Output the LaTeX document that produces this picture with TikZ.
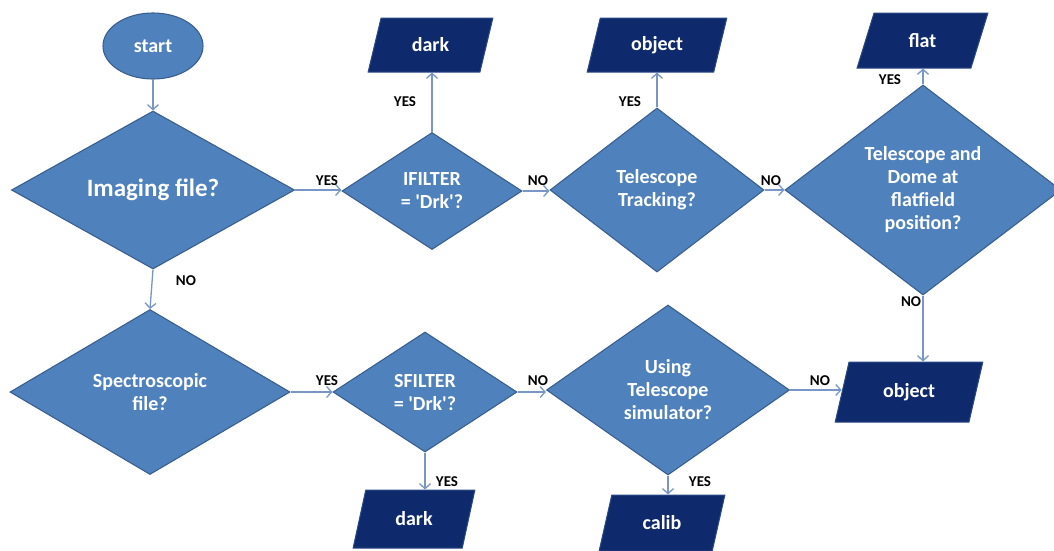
\documentclass[tikz,border=0pt]{standalone}
\usepackage{fontspec}
\setmainfont{Carlito}[Ligatures=TeXOff]
\usetikzlibrary{shapes.geometric,arrows.meta}
\definecolor{dfill}{HTML}{4F81BD}
\definecolor{dline}{HTML}{3A5F8F}
\definecolor{pfill}{HTML}{0F2A6C}
\definecolor{pline}{HTML}{2C4A86}
\definecolor{aline}{HTML}{7896C6}
\tikzset{
  x=1pt, y=-1pt,
  dec/.style={diamond, draw=dline, line width=1.1pt, fill=dfill, text=white, inner sep=0pt,
    font=\bfseries\fontsize{20}{23}\selectfont, align=center},
  para/.style={trapezium, trapezium left angle=71, trapezium right angle=109,
    trapezium stretches=true, draw=pline, line width=1pt, fill=pfill, text=white,
    font=\bfseries\fontsize{20}{23}\selectfont, inner sep=0pt},
  term/.style={ellipse, draw=dline, line width=1.1pt, fill=dfill, text=white,
    font=\bfseries\fontsize{20}{23}\selectfont, minimum width=100pt, minimum height=66pt},
  arr/.style={draw=aline, line width=1.3pt, -{Straight Barb[length=5pt,width=11pt]}},
  lbl/.style={font=\bfseries\fontsize{15}{17}\selectfont, text=black, inner sep=0pt}
}
\begin{document}
\begin{tikzpicture}
\useasboundingbox (0,0) rectangle (1054,550);
\fill[white] (0,0) rectangle (1054,550);
% terminal
\node[term] (st) at (153,46) {start};
% decisions
\node[dec, minimum width=283pt, minimum height=158pt, font=\bfseries\fontsize{25}{28}\selectfont] (img) at (153,190) {Imaging file?};
\node[dec, minimum width=180pt, minimum height=117pt] (ifl) at (432,191) {IFILTER\\= 'Drk'?};
\node[dec, minimum width=214pt, minimum height=164pt] (trk) at (657,190) {Telescope\\Tracking?};
\node[dec, minimum width=276pt, minimum height=210pt] (flt) at (923,190) {Telescope and\\Dome at\\flatfield\\position?};
\node[dec, minimum width=280pt, minimum height=165pt] (spc) at (150,392) {Spectroscopic\\file?};
\node[dec, minimum width=184pt, minimum height=120pt] (sfl) at (425,392) {SFILTER\\= 'Drk'?};
\node[dec, minimum width=243pt, minimum height=170pt] (sim) at (668,390) {Using\\Telescope\\simulator?};
% outputs
\node[para, minimum width=125pt, minimum height=54pt] (dk1) at (430.5,45) {dark};
\node[para, minimum width=140pt, minimum height=54pt] (ob1) at (657,45) {object};
\node[para, minimum width=131pt, minimum height=55pt] (fl) at (922.5,40.5) {flat};
\node[para, minimum width=148pt, minimum height=60pt] (ob2) at (909,392) {object};
\node[para, minimum width=122pt, minimum height=58pt] (dk2) at (414,519) {dark};
\node[para, minimum width=126pt, minimum height=56pt] (cal) at (662,523) {calib};
% connectors
\draw[arr] (st) -- (img);
\draw[arr] (img.east) -- (img.east -| ifl.west);
\draw[arr] (ifl.east) -- (ifl.east -| trk.west);
\draw[arr] (trk.east) -- (trk.east -| flt.west);
\draw[arr] (ifl.north) -- (ifl.north |- dk1.south);
\draw[arr] (trk.north) -- (trk.north |- ob1.south);
\draw[arr] (flt.north) -- (flt.north |- fl.south);
\draw[arr] (flt.south) -- (flt.south |- ob2.north);
\draw[arr] (img.south) -- (spc.north);
\draw[arr] (spc.east) -- (spc.east -| sfl.west);
\draw[arr] (sfl.east) -- (sfl.east -| sim.west);
\draw[arr] (sim.east) -- (sim.east -| ob2.west);
\draw[arr] (sfl.south) -- (sfl.south |- dk2.north);
\draw[arr] (sim.south) -- (sim.south |- cal.north);
% labels
\node[lbl] (l1) at (327,181) {YES};
\node[lbl] (l2) at (538,181) {NO};
\node[lbl] (l3) at (771,181) {NO};
\node[lbl] (l4) at (405,102) {YES};
\node[lbl] (l5) at (630,102) {YES};
\node[lbl] (l6) at (890,80) {YES};
\node[lbl] (l7) at (911,302) {NO};
\node[lbl] (l8) at (186,281) {NO};
\node[lbl] (l9) at (327,381) {YES};
\node[lbl] (l10) at (538,381) {NO};
\node[lbl] (l11) at (820,381) {NO};
\node[lbl] (l12) at (447,482) {YES};
\node[lbl] (l13) at (700,482) {YES};
\end{tikzpicture}
\end{document}
